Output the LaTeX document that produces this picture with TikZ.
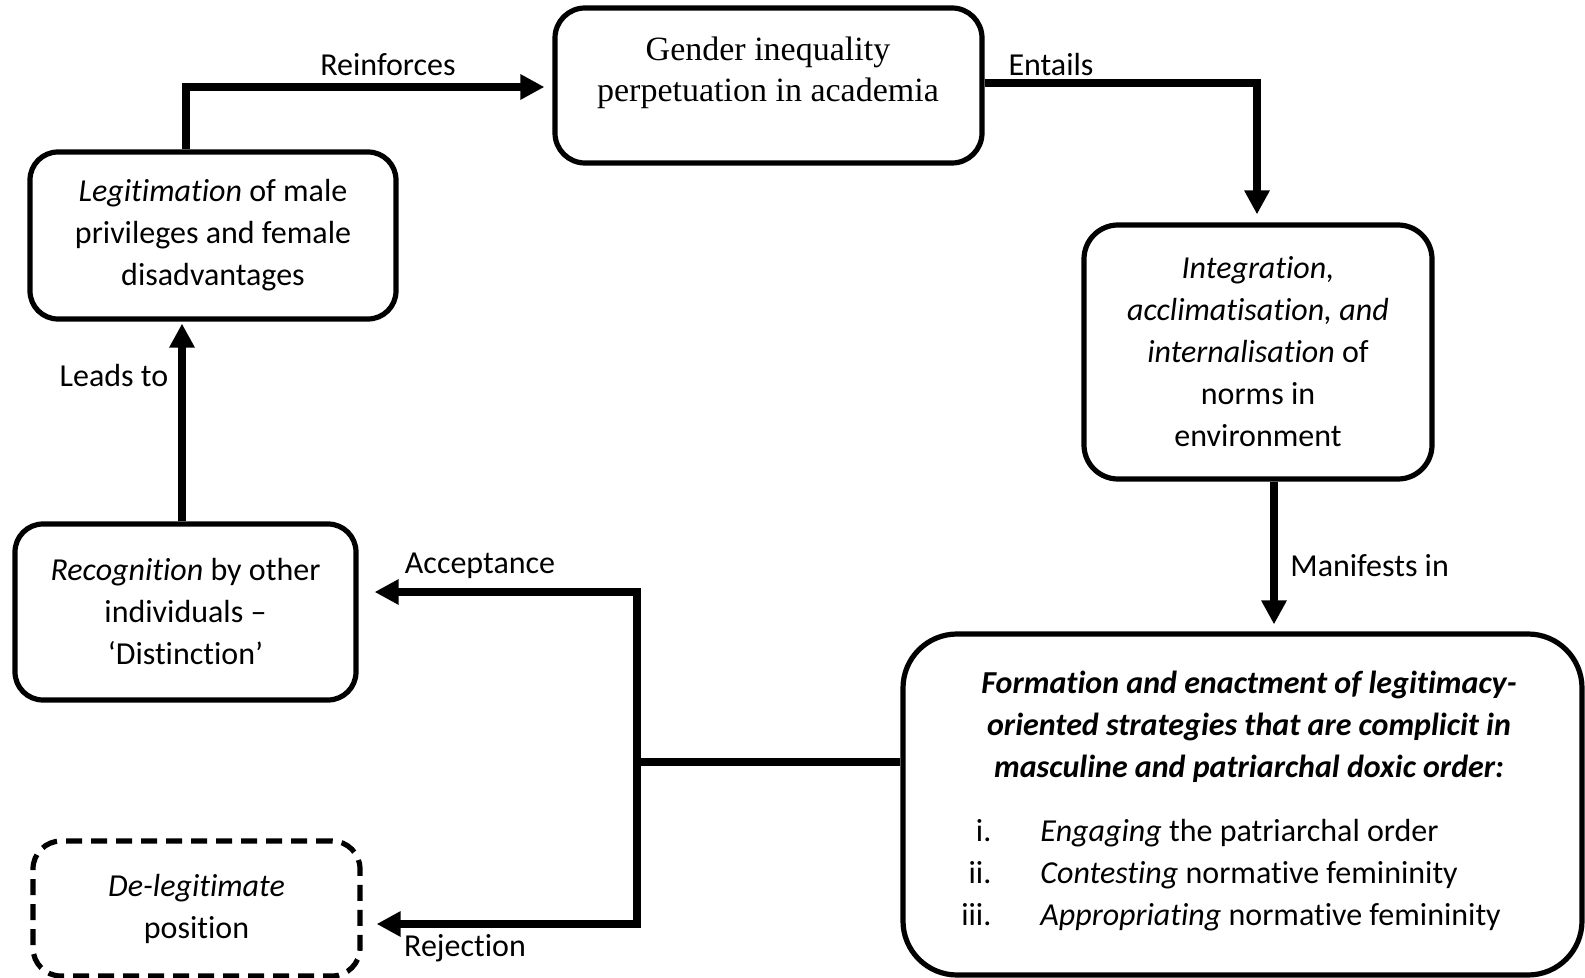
\documentclass[tikz,border=0pt]{standalone}
\usepackage{fontspec}
\setmainfont{Carlito}[Ligatures=NoCommon]
\newfontfamily\serifface{Liberation Serif}
\usetikzlibrary{arrows.meta}
\begin{document}
\begin{tikzpicture}[x=0.5pt,y=-0.5pt,
  box/.style={draw, line width=2.6pt, rounded corners=14pt, inner sep=0pt, align=center,
    font=\fontsize{16}{21}\selectfont},
  dbox/.style={box, dash pattern=on 8pt off 4.5pt},
  conn/.style={line width=4pt},
  arr/.style={conn, -{Triangle[length=12pt,width=12pt]}},
  lbl/.style={font=\fontsize{16}{21}\selectfont, inner sep=0pt},
  txt/.style={font=\fontsize{16}{21}\selectfont, inner sep=0pt, align=center}
]
\useasboundingbox (0,0) rectangle (1585,978);

\node[box, minimum width=213.5pt, minimum height=77.5pt, rounded corners=15pt] (top) at (768.5,85.5) {};
\node[txt, font=\serifface\fontsize{17}{20.5}\selectfont] (toptext) at (768,73) {Gender inequality\\perpetuation in academia};

\node[box, minimum width=183pt, minimum height=83.5pt] (legit) at (213,235.5)
  {\textit{Legitimation} of male\\privileges and female\\disadvantages};
\node[box, minimum width=170.5pt, minimum height=88pt] (recog) at (185.5,612)
  {\textit{Recognition} by other\\individuals –\\‘Distinction’};
\node[dbox, minimum width=163.5pt, minimum height=67.5pt] (deleg) at (196.5,908.5)
  {\textit{De-legitimate}\\position};
\node[box, minimum width=174pt, minimum height=127pt, rounded corners=17pt] (integ) at (1258,352)
  {\textit{Integration,}\\\textit{acclimatisation, and}\\\textit{internalisation} of\\norms in\\environment};
\node[box, minimum width=339.5pt, minimum height=170.5pt, rounded corners=27pt] (big) at (1242.5,804.5) {};
\node[txt] (bighead) at (1249,727)
  {\textbf{\textit{Formation and enactment of legitimacy-}}\\
   \textbf{\textit{oriented strategies that are complicit in}}\\
   \textbf{\textit{masculine and patriarchal doxic order:}}};
\node[txt, align=left, anchor=west] (biglist) at (941,875)
  {\makebox[25pt][r]{i.}\hspace{24.5pt}\textit{Engaging} the patriarchal order\\
   \makebox[25pt][r]{ii.}\hspace{24.5pt}\textit{Contesting} normative femininity\\
   \makebox[25pt][r]{iii.}\hspace{24.5pt}\textit{Appropriating} normative femininity};

\node[lbl] (lrein) at (388,65) {Reinforces};
\node[lbl] (lent) at (1051,65) {Entails};
\node[lbl] (llead) at (114,376) {Leads to};
\node[lbl] (lacc) at (480,566) {Acceptance};
\node[lbl] (lrej) at (465,948) {Rejection};
\node[lbl, anchor=west] (lman) at (1290,566) {Manifests in};

\coordinate (rf) at (186,87);
\coordinate (en) at (1257,83);
\coordinate (mx) at (1274,0);
\coordinate (lx) at (182,0);
\coordinate (j) at (637,762);
\coordinate (acc) at (0,592);
\coordinate (rej) at (0,924);

\draw[arr, shorten >=4pt] (legit.north -| rf) |- (top.west |- rf);
\draw[arr, shorten >=4pt] (top.east |- en) -| (en |- integ.north);
\draw[arr, shorten >=3.5pt] (integ.south -| mx) -- (big.north -| mx);
\draw[conn] (big.west |- j) -- (j);
\draw[arr, shorten >=8pt] (j) |- (recog.east |- acc);
\draw[arr, shorten >=7pt] (j) |- (deleg.east |- rej);
\draw[arr, shorten >=1pt] (recog.north -| lx) -- (legit.south -| lx);
\end{tikzpicture}
\end{document}
